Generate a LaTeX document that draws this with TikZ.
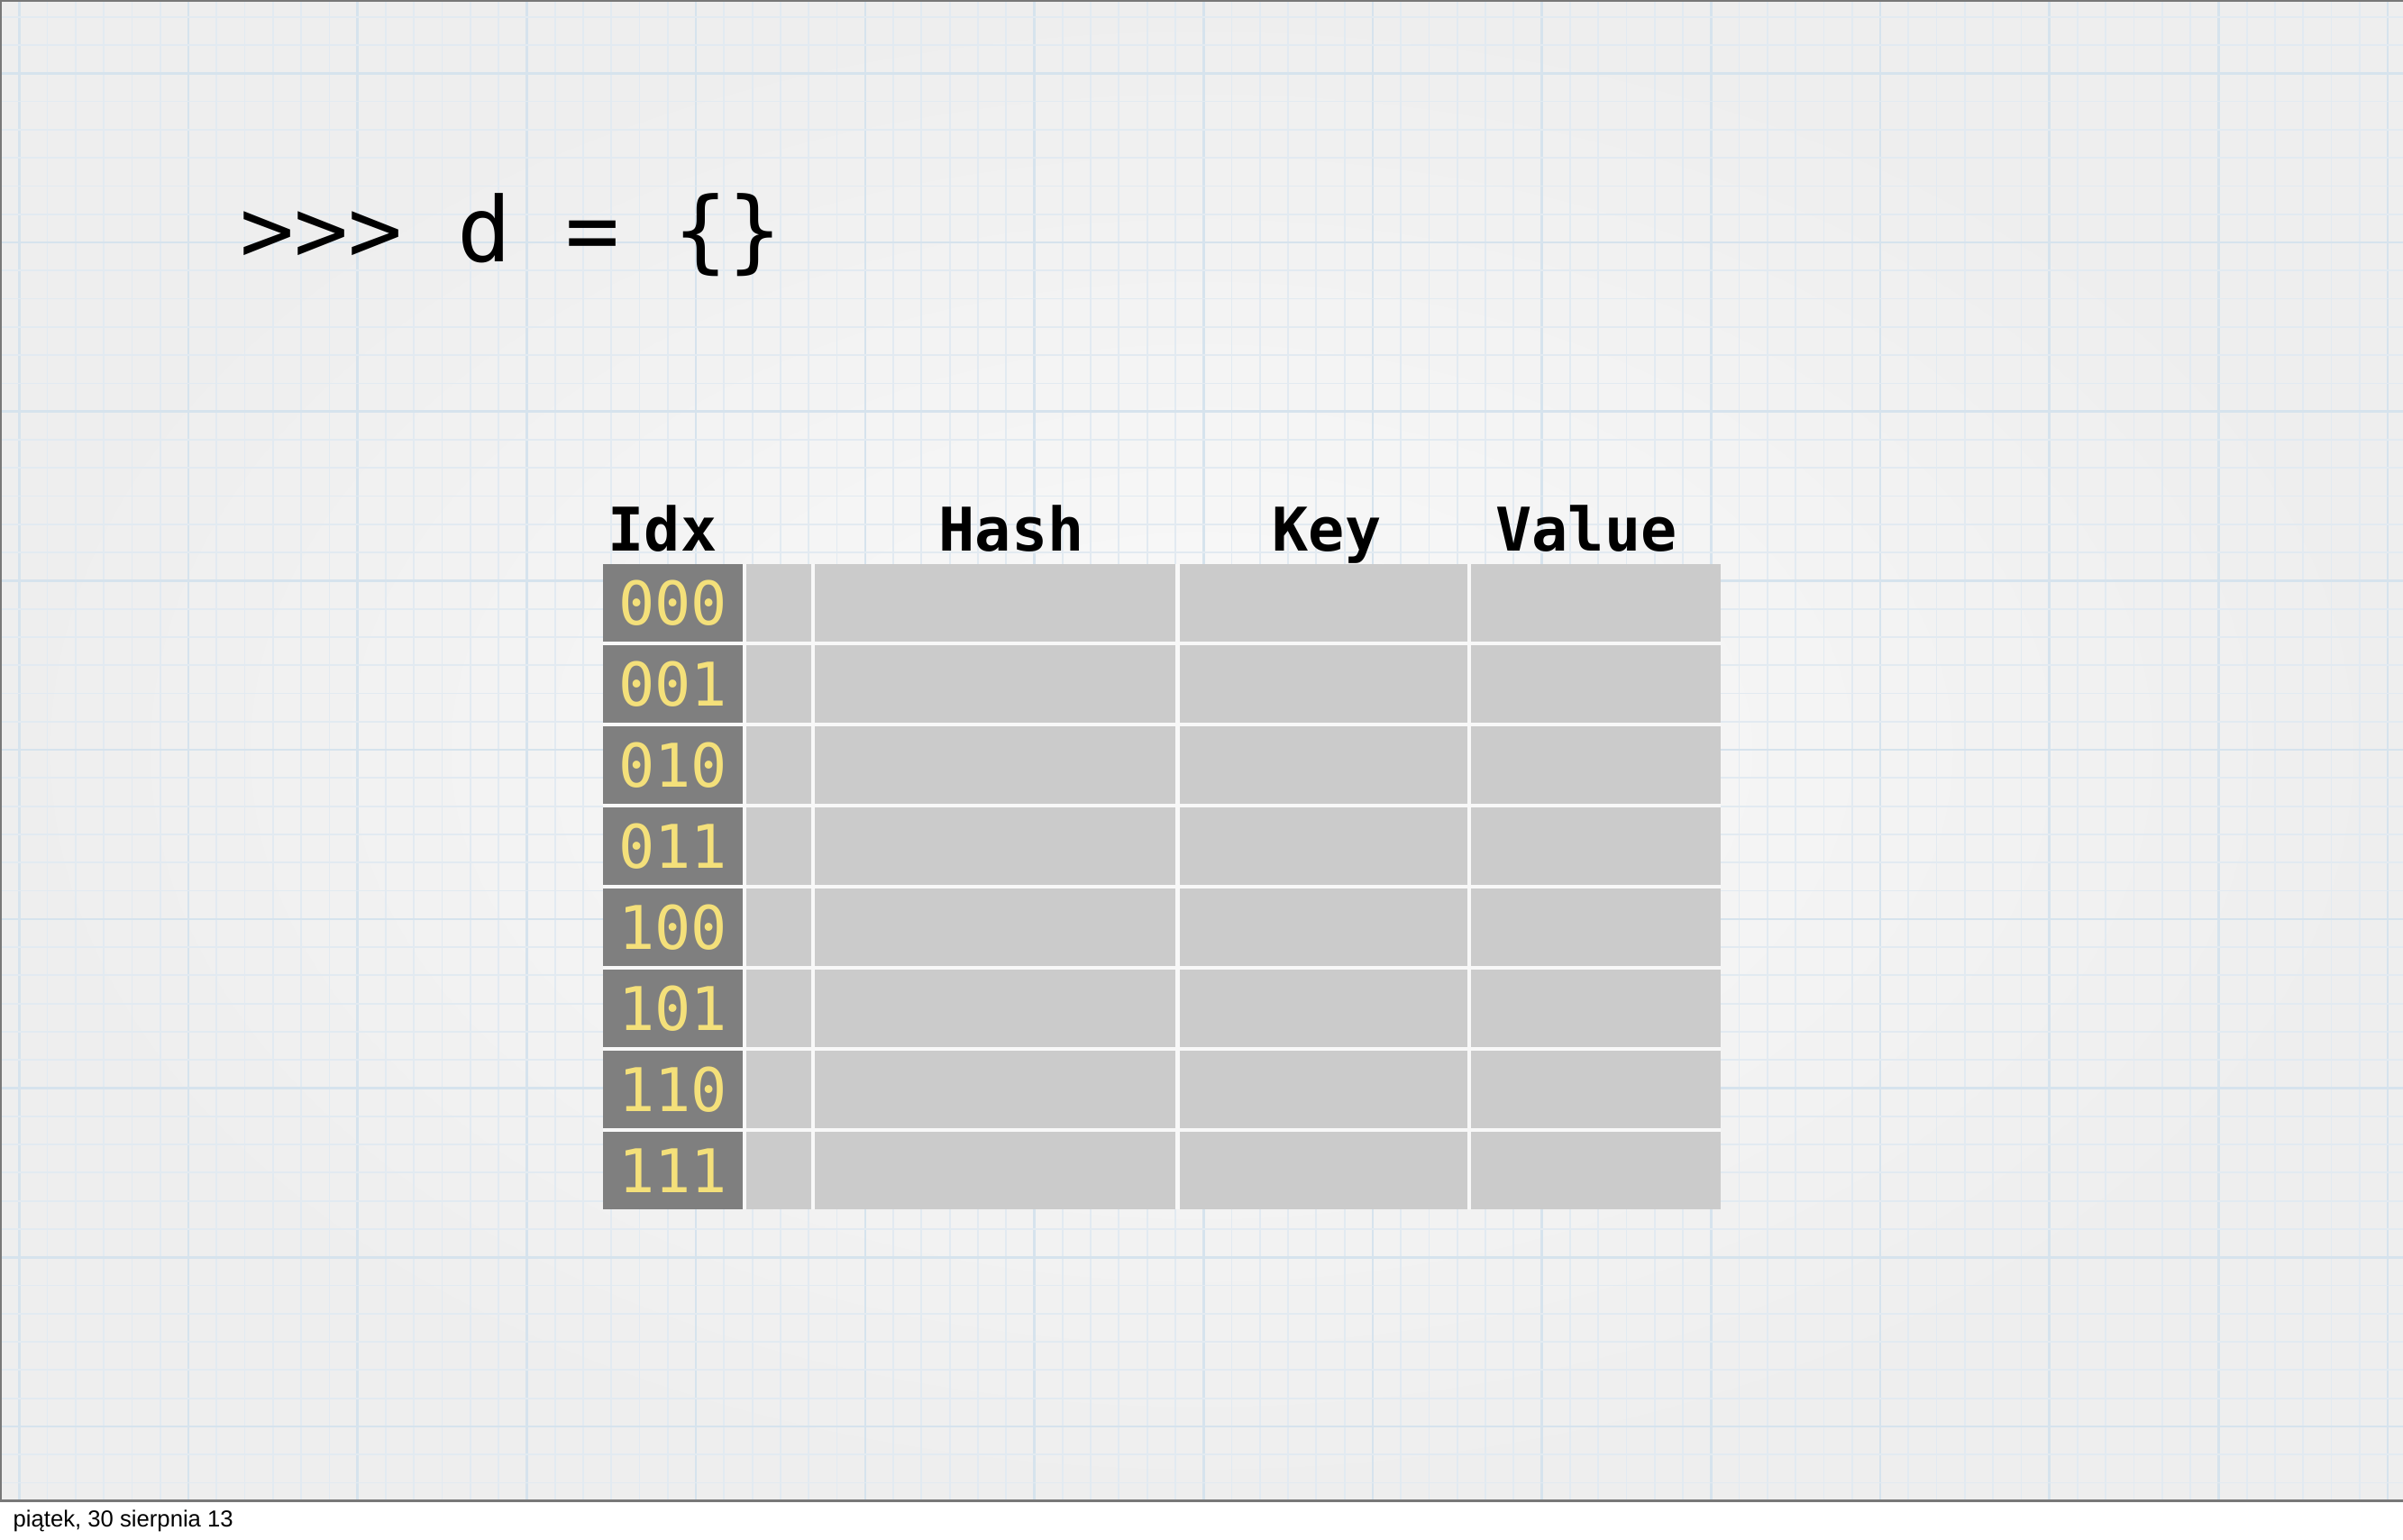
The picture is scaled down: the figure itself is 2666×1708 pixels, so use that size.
\documentclass[tikz,border=0pt]{standalone}
\usepackage{fontspec}
\newfontfamily\codefont{DejaVu Sans Mono}
\newfontfamily\footfont{Liberation Sans}
\definecolor{bgin}{RGB}{250,250,250}
\definecolor{bgout}{RGB}{238,238,238}
\definecolor{gridminor}{RGB}{226,234,241}
\definecolor{gridmajor}{RGB}{214,227,237}
\definecolor{framecol}{RGB}{120,120,120}
\definecolor{darkcell}{RGB}{127,127,127}
\definecolor{lightcell}{RGB}{203,203,203}
\definecolor{gapcol}{RGB}{248,248,248}
\definecolor{idxyellow}{RGB}{244,224,122}
\tikzset{
  minorline/.style={gridminor, line width=0.018cm},
  majorline/.style={gridmajor, line width=0.026cm},
  cellbox/.style={fill=lightcell, draw=none, inner sep=0pt, minimum height=0.86cm},
  idxcell/.style={fill=darkcell, draw=none, inner sep=0pt, minimum height=0.86cm,
    minimum width=1.55cm, text=idxyellow, font=\codefont\fontsize{19}{22}\selectfont},
  headtext/.style={anchor=base, inner sep=0pt, font=\codefont\bfseries\fontsize{19}{22}\selectfont},
}
\begin{document}
\begin{tikzpicture}[x=0.01cm, y=-0.01cm]
\useasboundingbox (0,0) rectangle (2666,1708);
\fill[white] (0,0) rectangle (2666,1708);
% slide background
\shade[inner color=bgin, outer color=bgout] (0,0) rectangle (2666,1665);
% grid
\foreach \k in {-6,...,78} {
  \pgfmathsetmacro\gx{209+31.283*\k}
  \pgfmathtruncatemacro\gm{mod(\k+60,6)}
  \ifnum\gm=0
    \draw[majorline] (\gx,0) -- (\gx,1665);
  \else
    \draw[minorline] (\gx,0) -- (\gx,1665);
  \fi
}
\foreach \k in {-8,...,44} {
  \pgfmathsetmacro\gy{269+31.283*\k}
  \pgfmathtruncatemacro\gm{mod(\k+60,6)}
  \ifnum\gm=0
    \draw[majorline] (0,\gy) -- (2666,\gy);
  \else
    \draw[minorline] (0,\gy) -- (2666,\gy);
  \fi
}
% frame
\draw[framecol, line width=0.025cm] (1,1665) -- (1,1) -- (2666,1);
\draw[framecol, line width=0.03cm] (0,1665) -- (2666,1665);
% prompt
\node[anchor=base west, inner sep=0pt, font=\codefont\fontsize{28.4}{34}\selectfont] (prompt) at (266,290) {>>> d = \{\}};
% table background (gaps)
\fill[gapcol] (669,626) rectangle (1909,1342);
% headers
\node[headtext] (hidx) at (735,611) {Idx};
\node[headtext] (hhash) at (1122,611) {Hash};
\node[headtext] (hkey) at (1472,611) {Key};
\node[headtext] (hval) at (1760,611) {Value};
% rows
\foreach \i/\b in {0/000,1/001,2/010,3/011,4/100,5/101,6/110,7/111} {
  \pgfmathsetmacro\cy{669+90*\i}
  \node[idxcell] (idx\i) at (746.5,\cy) {\b};
  \node[cellbox, minimum width=0.72cm] (aux\i) at (864,\cy) {};
  \node[cellbox, minimum width=4.00cm] (hash\i) at (1104,\cy) {};
  \node[cellbox, minimum width=3.19cm] (key\i) at (1468.5,\cy) {};
  \node[cellbox, minimum width=2.77cm] (val\i) at (1770.5,\cy) {};
}
% footer
\node[anchor=base west, inner sep=0pt, font=\footfont\fontsize{7.3}{9}\selectfont] (footer) at (14,1694) {piątek, 30 sierpnia 13};
\end{tikzpicture}
\end{document}
